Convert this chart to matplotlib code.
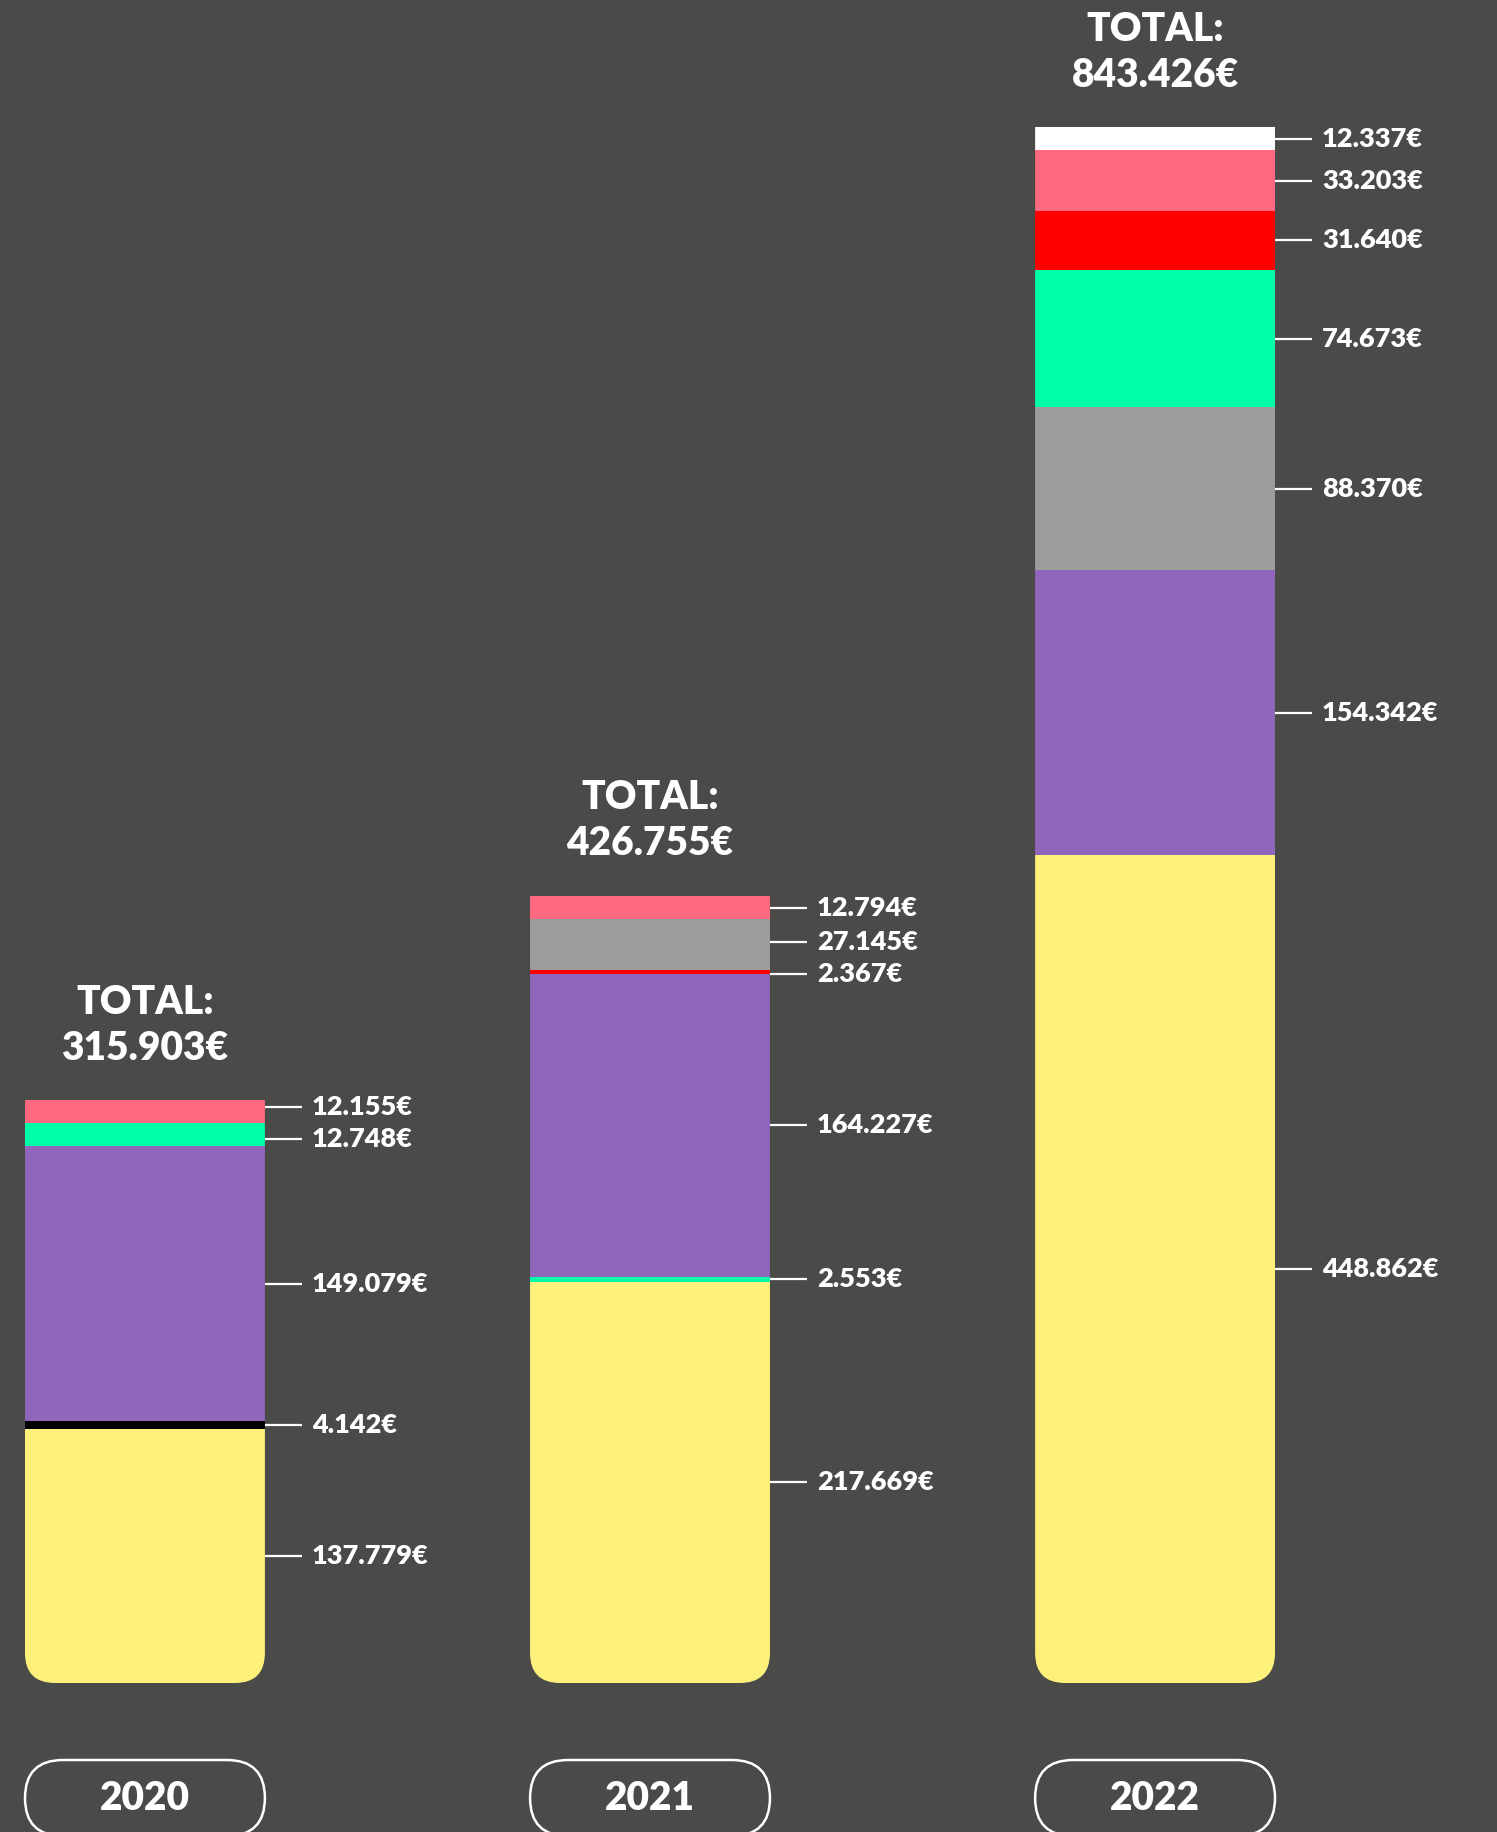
import matplotlib
matplotlib.use('Agg')
import matplotlib.pyplot as plt
from matplotlib.patches import FancyBboxPatch
import numpy as np

years = ['2020', '2021', '2022']
totals = [315903, 426755, 843426]

# segments from bottom to top
values_2020 = [137779, 4142, 149079, 12748, 12155]
colors_2020 = ['yellow', 'black', 'purple', 'green', 'pink']

values_2021 = [217669, 2553, 164227, 2367, 27145, 12794]
colors_2021 = ['yellow', 'green', 'purple', 'red', 'gray', 'pink']

values_2022 = [448862, 154342, 88370, 74673, 31640, 33203, 12337]
colors_2022 = ['yellow', 'purple', 'gray', 'green', 'red', 'pink', 'white']

palette = {
    'yellow': '#fef17b',
    'purple': '#9066bd',
    'green': '#00fea9',
    'pink': '#fe6980',
    'red': '#ff0000',
    'gray': '#9d9d9b',
    'white': '#ffffff',
    'black': '#000000',
}
BG = '#4a4a48'
FONT = ['Lato', 'DejaVu Sans']
WEIGHT = 'heavy'


def fmt(v):
    return f"{v:,}".replace(',', '.') + '€'


W_PX, H_PX = 1497, 1832
fig = plt.figure(figsize=(W_PX / 100, H_PX / 100), dpi=100, facecolor=BG)
ax = fig.add_axes([0, 0, 1, 1])
ax.set_facecolor(BG)
ax.axis('off')

bar_w = 0.475
xlim = (-0.287, 2.677)
top_max = max(totals)
ylim = (-top_max * 149 / 1555.7, top_max * 1683 / 1555.7)
ax.set_xlim(*xlim)
ax.set_ylim(*ylim)

xu = (xlim[1] - xlim[0]) / W_PX   # x units per pixel
yu = (ylim[1] - ylim[0]) / H_PX   # y units per pixel
aspect = yu / xu

all_values = [values_2020, values_2021, values_2022]
all_colors = [colors_2020, colors_2021, colors_2022]


def spread(ys, gap, n_iter=50):
    ys = list(ys)
    for _ in range(n_iter):
        moved = False
        for k in range(len(ys) - 1):
            d = ys[k + 1] - ys[k]
            if d < gap:
                push = (gap - d) / 2
                ys[k] -= push
                ys[k + 1] += push
                moved = True
        if not moved:
            break
    return ys


for i, (vals, cols) in enumerate(zip(all_values, all_colors)):
    vals = np.array(vals)
    bottoms = np.concatenate([[0], np.cumsum(vals)[:-1]])
    bars = ax.bar(i, vals, bottom=bottoms, width=bar_w,
                  color=[palette[c] for c in cols], linewidth=0)

    # rounded bottom corners only
    clip = FancyBboxPatch((i - bar_w / 2, 0), bar_w, vals.sum() * 1.3,
                          boxstyle=f"round,pad=0,rounding_size={30 * xu}",
                          mutation_aspect=aspect, transform=ax.transData)
    for b in bars:
        b.set_clip_path(clip)

    # value labels with leader lines
    mids = bottoms + vals / 2
    label_y = spread(mids, 32 * yu)
    x0 = i + bar_w / 2
    for v, y in zip(vals, label_y):
        ax.plot([x0, x0 + 37 * xu], [y, y], color='white', lw=1.6,
                solid_capstyle='butt')
        ax.text(x0 + 47 * xu, y, fmt(v), color='white', fontsize=19.5,
                fontweight=WEIGHT, family=FONT, va='center', ha='left')

    # total above the bar
    top = vals.sum()
    ax.text(i, top + 98 * yu, 'TOTAL:', color='white', fontsize=28,
            fontweight=WEIGHT, family=FONT, ha='center', va='center')
    ax.text(i, top + 52 * yu, fmt(totals[i]), color='white', fontsize=28,
            fontweight=WEIGHT, family=FONT, ha='center', va='center')

    # year pill
    pill = FancyBboxPatch((i - bar_w / 2, -153 * yu), bar_w, 76 * yu,
                          boxstyle=f"round,pad=0,rounding_size={38 * xu}",
                          mutation_aspect=aspect, facecolor='none',
                          edgecolor='white', lw=1.8, clip_on=False)
    ax.add_patch(pill)
    ax.text(i, -115 * yu, years[i], color='white', fontsize=28,
            fontweight=WEIGHT, family=FONT, ha='center', va='center')

fig.savefig('out.png', dpi=100, facecolor=BG)
